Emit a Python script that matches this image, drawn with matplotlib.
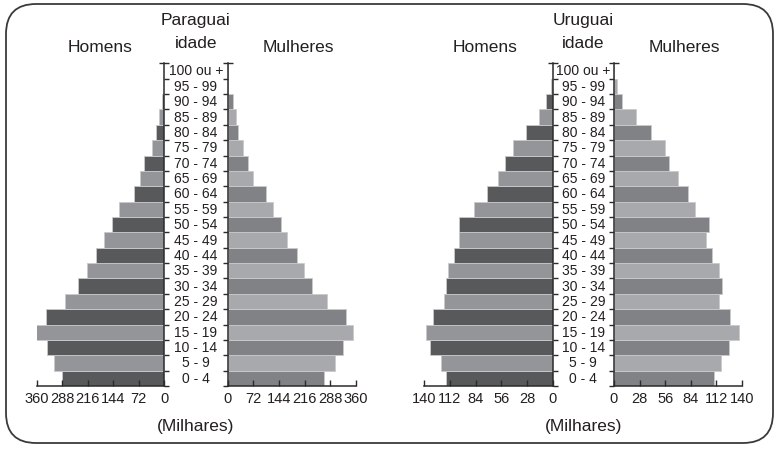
import matplotlib
matplotlib.use("Agg")
import matplotlib.pyplot as plt
from matplotlib.patches import FancyBboxPatch
import numpy as np

age_groups = ["0 - 4", "5 - 9", "10 - 14", "15 - 19", "20 - 24", "25 - 29", "30 - 34",
              "35 - 39", "40 - 44", "45 - 49", "50 - 54", "55 - 59", "60 - 64", "65 - 69",
              "70 - 74", "75 - 79", "80 - 84", "85 - 89", "90 - 94", "95 - 99", "100 ou +"]

paraguai_homens = [290, 311, 332, 362, 334, 281, 243, 218, 193, 170, 148, 128, 86, 68,
                   57, 35, 23.5, 15, 7.5, 1, 0]
paraguai_mulheres = [271, 301, 323, 351, 332, 280, 237, 214, 194, 165, 149, 126, 107, 71,
                     57, 44, 28, 22, 14, 1, 0]
uruguai_homens = [116, 122, 134, 138, 130.5, 118, 116, 113.8, 107.6, 102, 102.5, 85.5, 71.6, 60,
                  52, 43, 29, 14.5, 7, 2.2, 0]
uruguai_mulheres = [109, 117, 125.4, 137, 126.5, 115, 118, 115, 107, 101, 103.5, 89, 81, 70,
                    60, 56, 41, 24.4, 8.4, 3, 0]

paraguai_ticks = [0, 72, 144, 216, 288, 360]
uruguai_ticks = [0, 28, 56, 84, 112, 140]

TXT = "#231f20"
M_DARK, M_LIGHT = "#58595b", "#939598"
F_DARK, F_LIGHT = "#808285", "#a7a9ac"
NARROW = ["Liberation Sans Narrow", "Liberation Sans", "DejaVu Sans"]
plt.rcParams["font.family"] = ["Liberation Sans", "DejaVu Sans"]

W, H = 780, 450
fig = plt.figure(figsize=(W / 100, H / 100), dpi=100)

# background axes in pixel coordinates
bg = fig.add_axes([0, 0, 1, 1])
bg.set_xlim(0, W)
bg.set_ylim(H, 0)
bg.axis("off")
frame = FancyBboxPatch((6, 4), 767, 439, boxstyle="round,pad=0,rounding_size=30",
                       fc="none", ec="#3a3a3a", lw=1.3)
bg.add_patch(frame)

n = len(age_groups)
y = np.arange(n)
row_top, row_bot = 63.3, 386.0


def px_axes(x0, x1):
    return fig.add_axes([x0 / W, (H - row_bot) / H, (x1 - x0) / W, (row_bot - row_top) / H])


def pyramid(mx0, mx1, fx0, fx1, men, women, ticks, name, hom_dx, mul_dx):
    vmax = ticks[-1]
    colors_m = [M_DARK if i % 2 == 0 else M_LIGHT for i in range(n)]
    colors_f = [F_DARK if i % 2 == 0 else F_LIGHT for i in range(n)]
    for side in ("m", "f"):
        if side == "m":
            ax = px_axes(mx0, mx1)
            ax.barh(y, men, height=1.0, color=colors_m, edgecolor="#c9cacc", lw=0.6)
            ax.set_xlim(vmax, 0)
            ax.spines[["left", "top"]].set_visible(False)
            ax.yaxis.tick_right()
        else:
            ax = px_axes(fx0, fx1)
            ax.barh(y, women, height=1.0, color=colors_f, edgecolor="#c9cacc", lw=0.6)
            ax.set_xlim(0, vmax)
            ax.spines[["right", "top"]].set_visible(False)
            ax.yaxis.tick_left()
        ax.patch.set_alpha(0)
        ax.set_ylim(-0.5, n - 0.5)
        for s in ax.spines.values():
            s.set_color("#2b2b2b")
            s.set_linewidth(1.1)
        ax.set_yticks(np.arange(-0.5, n - 1, 1.0))
        ax.set_yticklabels([])
        ax.set_yticks([n - 0.5], minor=True)
        ax.tick_params(axis="y", which="major", direction="out", length=3.5, width=1.0, color="#2b2b2b")
        ax.tick_params(axis="y", which="minor", direction="inout", length=7, width=1.0, color="#2b2b2b")
        ax.set_xticks(ticks)
        ax.set_xticklabels([str(t) for t in ticks], family=NARROW, fontsize=10.5, color=TXT)
        ax.tick_params(axis="x", direction="in", length=4.5, width=1.0, pad=4, color="#2b2b2b")
    cx = (mx1 + fx0) / 2
    for i, lab in enumerate(age_groups):
        yy = row_bot - (i + 0.5) * (row_bot - row_top) / n
        bg.text(cx, yy + 0.5, lab, ha="center", va="center", fontsize=10, color=TXT)
    bg.text(cx, 21, name, ha="center", va="center", fontsize=12.5, color=TXT)
    bg.text(cx, 44, "idade", ha="center", va="center", fontsize=12.5, color=TXT)
    bg.text((mx0 + mx1) / 2 + hom_dx, 47, "Homens", ha="center", va="center", fontsize=12.5, color=TXT)
    bg.text((fx0 + fx1) / 2 + mul_dx, 47, "Mulheres", ha="center", va="center", fontsize=12.5, color=TXT)
    bg.text(cx, 427, "(Milhares)", ha="center", va="center", fontsize=12.5, color=TXT)


pyramid(36.7, 164.3, 227.7, 356.0, paraguai_homens, paraguai_mulheres, paraguai_ticks, "Paraguai", 0, 7)
pyramid(424.3, 552.7, 614.0, 742.0, uruguai_homens, uruguai_mulheres, uruguai_ticks, "Uruguai", -3, 6)

fig.savefig("out.png", dpi=100)
